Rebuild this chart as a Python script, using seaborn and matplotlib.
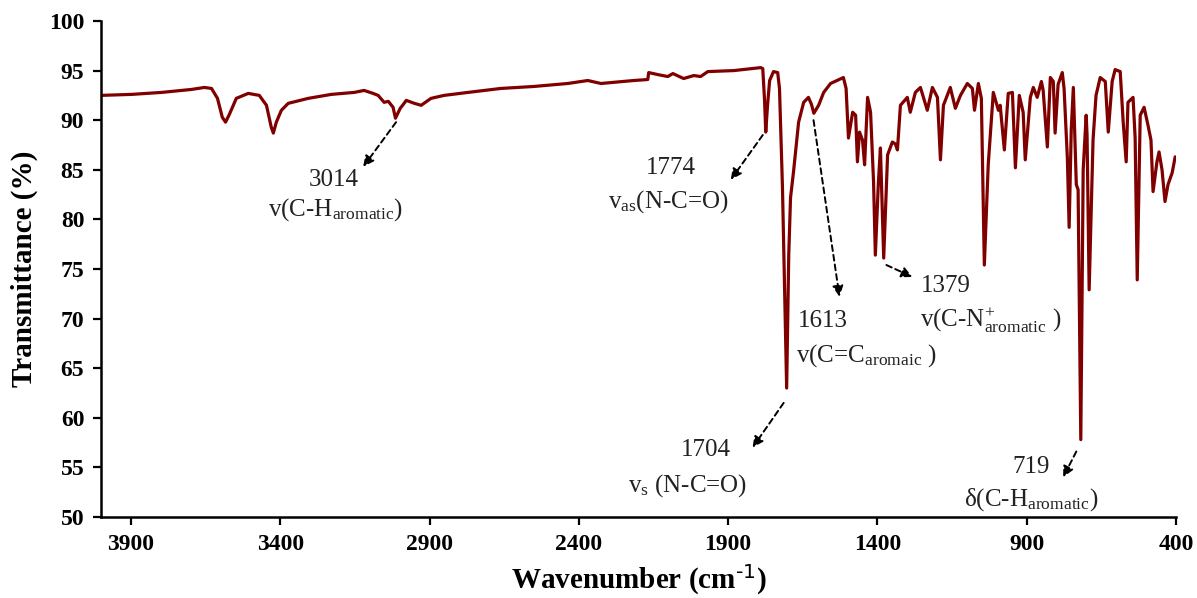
import numpy as np
import pandas as pd
import matplotlib
matplotlib.use("Agg")
import matplotlib.pyplot as plt
import seaborn as sns

# FT-IR spectrum: wavenumber (cm-1) and transmittance (%)
wavenumber = [
    4000, 3898, 3797, 3697, 3654, 3630, 3610, 3594, 3583, 3570, 3547, 3507,
    3470, 3446, 3430, 3423, 3413, 3396, 3373, 3306, 3229, 3152, 3119, 3089,
    3072, 3052, 3038, 3022, 3014, 2998, 2985, 2978, 2951, 2928, 2895, 2851,
    2771, 2661, 2550, 2437, 2370, 2326, 2216, 2169, 2166, 2136, 2102, 2085,
    2049, 2015, 1992, 1968, 1881, 1791, 1784, 1778, 1774, 1768, 1761, 1748,
    1734, 1728, 1718, 1704, 1697, 1691, 1681, 1664, 1647, 1631, 1621, 1613,
    1597, 1580, 1557, 1514, 1505, 1497, 1483, 1473, 1467, 1460, 1450, 1443,
    1433, 1423, 1413, 1407, 1397, 1390, 1379, 1366, 1350, 1340, 1333, 1323,
    1300, 1290, 1273, 1256, 1233, 1216, 1199, 1189, 1179, 1156, 1139, 1122,
    1099, 1082, 1075, 1062, 1052, 1042, 1029, 1012, 995, 989, 975, 962,
    948, 938, 925, 912, 905, 888, 878, 865, 851, 845, 831, 821,
    811, 805, 795, 781, 775, 764, 758, 751, 744, 734, 728, 719,
    711, 701, 698, 691, 678, 668, 654, 637, 627, 614, 604, 587,
    577, 567, 561, 544, 537, 530, 520, 507, 494, 484, 477, 464,
    457, 447, 437, 427, 413, 403,
]
transmittance = [
    92.5, 92.6, 92.8, 93.1, 93.3, 93.2, 92.2, 90.3, 89.8, 90.6, 92.2, 92.7,
    92.5, 91.5, 89.3, 88.7, 89.8, 91.0, 91.7, 92.2, 92.6, 92.8, 93.0, 92.7,
    92.5, 91.8, 91.9, 91.3, 90.2, 91.2, 91.7, 92.0, 91.7, 91.5, 92.2, 92.5,
    92.8, 93.2, 93.4, 93.7, 94.0, 93.7, 94.0, 94.1, 94.8, 94.6, 94.4, 94.7,
    94.2, 94.5, 94.4, 94.9, 95.0, 95.3, 95.2, 92.0, 88.8, 91.5, 94.0, 94.9,
    94.8, 93.2, 83.2, 63.0, 76.4, 82.2, 84.8, 89.8, 91.8, 92.3, 91.6, 90.7,
    91.5, 92.8, 93.7, 94.3, 93.2, 88.2, 90.8, 90.5, 85.8, 88.8, 88.0, 85.5,
    92.3, 90.8, 83.8, 76.4, 83.6, 87.2, 76.1, 86.5, 87.8, 87.6, 87.0, 91.5,
    92.3, 90.8, 92.8, 93.3, 91.0, 93.3, 92.3, 86.0, 91.5, 93.3, 91.2, 92.5,
    93.7, 93.2, 91.0, 93.7, 92.2, 75.4, 85.5, 92.8, 91.0, 91.5, 87.0, 92.7,
    92.8, 85.2, 92.5, 90.8, 86.0, 92.3, 93.3, 92.3, 93.9, 93.0, 87.3, 94.3,
    93.9, 88.7, 93.6, 94.8, 93.2, 86.2, 79.2, 89.0, 93.3, 83.5, 83.0, 57.8,
    85.0, 90.5, 88.5, 72.9, 88.0, 92.5, 94.3, 93.9, 88.8, 93.9, 95.1, 94.9,
    89.8, 85.8, 91.8, 92.3, 88.2, 73.9, 90.5, 91.3, 89.5, 88.0, 82.8, 85.8,
    86.8, 85.0, 81.8, 83.5, 84.7, 86.3,
]

x_ticks = [3900, 3400, 2900, 2400, 1900, 1400, 900, 400]
y_ticks = [50, 55, 60, 65, 70, 75, 80, 85, 90, 95, 100]

df = pd.DataFrame({"Wavenumber": wavenumber, "Transmittance": transmittance})

sns.set_style("ticks")
plt.rcParams["font.family"] = ["Liberation Serif", "DejaVu Serif"]
plt.rcParams["mathtext.default"] = "regular"

fig = plt.figure(figsize=(11.97, 5.98), dpi=100)
ax = fig.add_axes([0.0844, 0.1355, 0.8981, 0.8294])

sns.lineplot(data=df, x="Wavenumber", y="Transmittance", ax=ax,
             color="#800000", linewidth=2.3, sort=False, estimator=None)

ax.set_xlim(4000, 400)
ax.set_ylim(50, 100)
ax.set_xticks(x_ticks)
ax.set_yticks(y_ticks)
ax.tick_params(axis="both", direction="out", length=6, width=1.6,
               labelsize=17, colors="black", pad=6)
for lab in ax.get_xticklabels() + ax.get_yticklabels():
    lab.set_fontweight("bold")
for side in ("top", "right"):
    ax.spines[side].set_visible(False)
for side in ("left", "bottom"):
    ax.spines[side].set_linewidth(1.8)
    ax.spines[side].set_color("black")

ax.set_xlabel("Wavenumber (cm$^{\\text{-1}}$)", fontsize=21,
              fontweight="bold", labelpad=6, color="black")
ax.set_ylabel("Transmittance (%)", fontsize=21, fontweight="bold",
              labelpad=8, color="black")

# Band assignments: dashed arrows and labels
arrow_kw = dict(arrowstyle="-|>", linestyle=(0, (3, 2)), color="black",
                lw=1.4, mutation_scale=16, shrinkA=0, shrinkB=0)
txt_kw = dict(fontsize=18, color="#222222")

arrows = [
    ((3012, 89.8), (3122, 85.3)),
    ((1784, 88.5), (1891, 84.0)),
    ((1714, 61.5), (1818, 57.0)),
    ((1614, 90.0), (1527, 72.2)),
    ((1370, 75.4), (1283, 74.2)),
    ((734, 56.6), (778, 54.0)),
]
for tail, head in arrows:
    ax.annotate("", xy=head, xytext=tail, arrowprops=arrow_kw)

ax.text(3219, 84.0, "3014", ha="center", va="center", **txt_kw)
ax.text(3216, 81.0, "v(C-H$_{aromatic}$)", ha="center", va="center", **txt_kw)

ax.text(2092, 85.2, "1774", ha="center", va="center", **txt_kw)
ax.text(2099, 81.8, "v$_{as}$(N-C=O)", ha="center", va="center", **txt_kw)

ax.text(1975, 56.8, "1704", ha="center", va="center", **txt_kw)
ax.text(2035, 53.2, "v$_{s}$ (N-C=O)", ha="center", va="center", **txt_kw)

ax.text(1667, 69.8, "1613", ha="left", va="center", **txt_kw)
ax.text(1674, 66.3, "v(C=C$_{aromaic}$ )", ha="left", va="center", **txt_kw)

ax.text(1253, 73.3, "1379", ha="left", va="center", **txt_kw)
ax.text(1256, 69.8, "v(C-N$^{+}_{aromatic}$ )", ha="left", va="center", **txt_kw)

ax.text(885, 55.0, "719", ha="center", va="center", **txt_kw)
ax.text(885, 51.8, "δ(C-H$_{aromatic}$)", ha="center", va="center", **txt_kw)

fig.savefig("out.png", dpi=100)
